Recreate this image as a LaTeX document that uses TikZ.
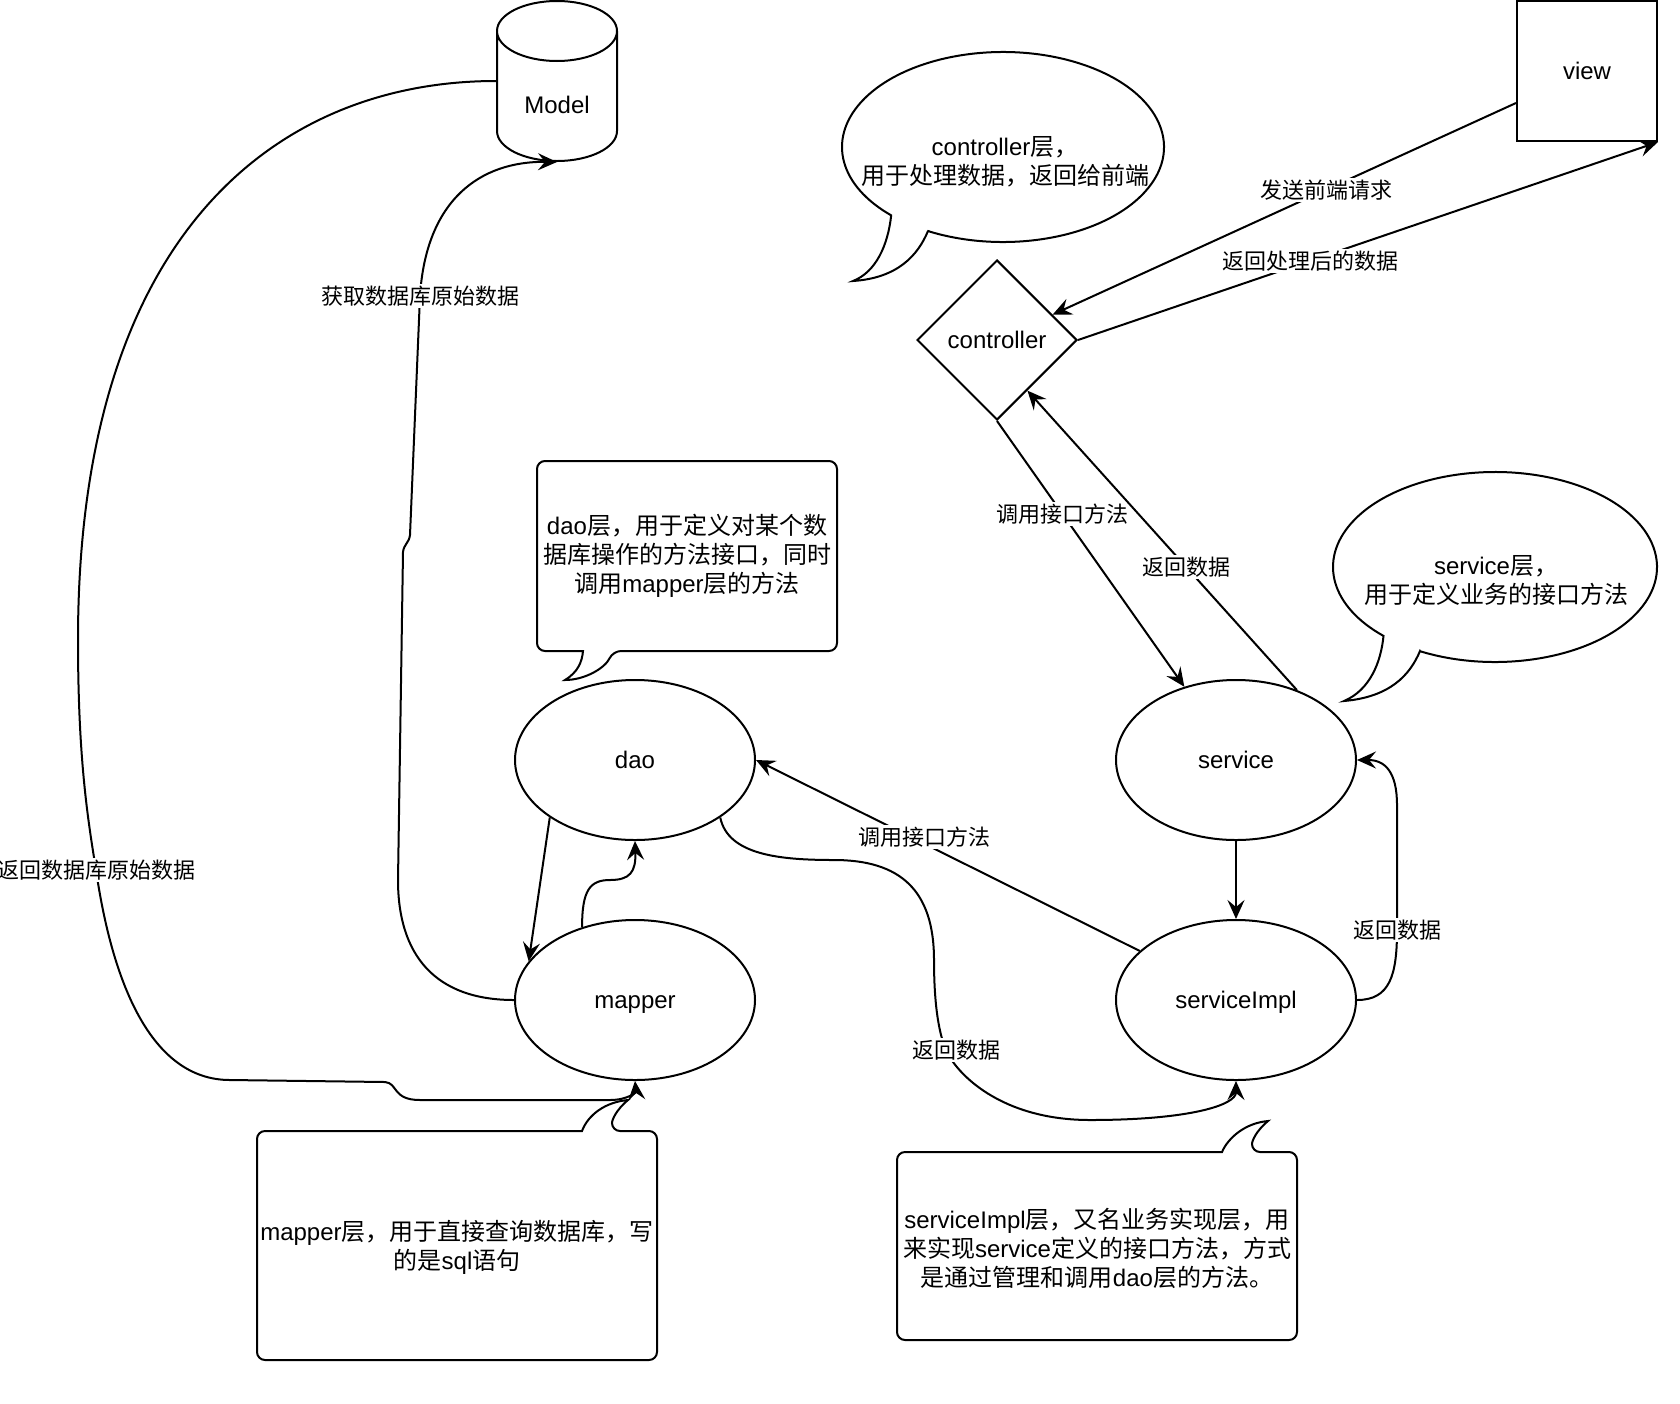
\documentclass[tikz,border=0pt]{standalone}
\usepackage{fontspec}
\setmainfont{Liberation Sans}
\newfontfamily\cjk{Noto Sans CJK SC}
\newcommand{\zh}[1]{{\cjk #1}}
\usetikzlibrary{shapes.geometric,arrows.meta}

\begin{document}
\begin{tikzpicture}[x = 0.5pt, y = -0.5pt, line width = 1pt,
    every node/.style = {font = \fontsize{12pt}{14.5pt}\selectfont},
    layer/.style = {draw, ellipse, minimum width = 120pt, minimum height = 80pt, inner sep = 0pt,
      text height = 10pt, text depth = 1.5pt},
    arr/.style = {-{Stealth[length = 9.5pt, width = 8.5pt, inset = 3.5pt]}},
    lbl/.style = {fill = white, inner sep = 1pt, font = \fontsize{11pt}{13pt}\selectfont\cjk},
    note/.style = {align = center, inner sep = 0pt}]
\useasboundingbox (0,0) rectangle (1680,1403);

% the layers
\node[minimum width = 60pt, minimum height = 80pt, inner sep = 0pt] (model) at (557,81) {};
\draw (497,31) -- (497,131) arc[start angle = 180, end angle = 360, x radius = 30pt, y radius = 15pt]
  -- (617,31) arc[start angle = 0, end angle = 180, x radius = 30pt, y radius = 15pt]
  arc[start angle = 180, end angle = 360, x radius = 30pt, y radius = 15pt]; % cylinder
\node (modeltext) at (557,105) {Model};
\node[draw, minimum width = 70pt, minimum height = 70pt] (view) at (1587,71) {view};
\node[draw, diamond, minimum width = 80pt, minimum height = 80pt, inner sep = 0pt] (ctrl) at (997,340) {controller};
\node[layer] (dao) at (635,760) {dao};
\node[layer] (mapper) at (635,1000) {mapper};
\node[layer] (service) at (1236,760) {service};
\node[layer] (serviceimpl) at (1236,1000) {serviceImpl};

% speech bubbles
\coordinate (cbub) at (1003,147);
\draw (cbub) ++(242:80.5pt and 47.5pt) arc[start angle = 242, end angle = 586, x radius = 80.5pt, y radius = 47.5pt]
  .. controls (888,245) and (876,272) .. (853,281) .. controls (898,278) and (918,255) .. (928,231) -- cycle;
\node[note] (ctrlnote) at (1005,162) {controller\zh{层，}\\\zh{用于处理数据，返回给前端}};
\coordinate (sbub) at (1495,567);
\draw (sbub) ++(242.5:81pt and 47.5pt) arc[start angle = 242.5, end angle = 586.5, x radius = 81pt, y radius = 47.5pt]
  .. controls (1381,662) and (1370,690) .. (1344,701) .. controls (1390,697) and (1410,675) .. (1420,651) -- cycle;
\node[note] (servicenote) at (1496,581) {service\zh{层，}\\\zh{用于定义业务的接口方法}};

% rounded boxes with a tail
\draw (565,680) .. controls (578,672) and (582,662) .. (583,651) [rounded corners = 4pt]
  -- (537,651) -- (537,461) -- (837,461) -- (837,651) -- (613,651) [sharp corners]
  .. controls (605,668) and (585,680) .. (565,680) -- cycle;
\node[note] (daonote) at (687,556) {dao\zh{层，用于定义对某个数}\\\zh{据库操作的方法接口，同时}\\\zh{调用}mapper\zh{层的方法}};
\draw (628,1100) .. controls (605,1102) and (588,1115) .. (582,1131) [rounded corners = 4pt]
  -- (257,1131) -- (257,1360) -- (657,1360) -- (657,1131) -- (612,1131) [sharp corners]
  .. controls (612,1120) and (616,1110) .. (628,1100) -- cycle;
\node[note] (mappernote) at (457,1247) {mapper\zh{层，用于直接查询数据库，写}\\\zh{的是}sql\zh{语句}};
\draw (1268,1121) .. controls (1245,1123) and (1228,1138) .. (1222,1152) [rounded corners = 4pt]
  -- (897,1152) -- (897,1340) -- (1297,1340) -- (1297,1152) -- (1252,1152) [sharp corners]
  .. controls (1252,1141) and (1256,1131) .. (1268,1121) -- cycle;
\node[note] (implnote) at (1097,1248) {serviceImpl\zh{层，又名业务实现层，用}\\\zh{来实现}service\zh{定义的接口方法，方式}\\\zh{是通过管理和调用}dao\zh{层的方法。}};

% front end and controller
\draw[arr] ([yshift = -16pt]view.west) -- node[lbl, pos = 0.41] {发送前端请求} (ctrl);
\draw[arr] (ctrl.east) -- node[lbl, pos = 0.4] {返回处理后的数据} (view.south east);
\draw[arr] (ctrl.south) -- node[lbl, pos = 0.35] {调用接口方法} (service);
\draw[arr] (service.49) -- node[lbl, pos = 0.41] {返回数据} (ctrl.-59);

% service side
\draw[arr] (service) -- (serviceimpl);
\draw[arr] (serviceimpl.east) .. controls (1390,1000) and (1397,975) .. (1397,930) node[lbl] {返回数据}
  -- (1397,805) .. controls (1397,772) and (1385,760) .. (service.east);
\draw[arr] (serviceimpl.153) -- node[lbl, pos = 0.56, yshift = 3.5pt] {调用接口方法} (dao.east);
\draw[arr] (dao.-34) .. controls (728,855) and (780,860) .. (834,860) .. controls (900,860) and (934,890) .. (934,960)
  .. controls (934,1010) and (940,1036) .. (946,1050) node[lbl, xshift = 5pt] {返回数据}
  .. controls (956,1073) and (1000,1120) .. (1090,1120) .. controls (1190,1120) and (1236,1105) .. (serviceimpl.south);

% dao and mapper
\draw[arr] (dao.214) -- (mapper.160);
\draw[arr] (mapper.126) .. controls (582,890) and (590,880) .. (610,880) .. controls (630,880) and (636,872) .. (dao.south);

% database
\draw[arr] (mapper.west) .. controls (435,1000) and (398,955) .. (398,880) -- (403,552)
  .. controls (404,544) and (409,543) .. (410,535) -- (420,296) node[lbl] {获取数据库原始数据}
  .. controls (426,200) and (480,161) .. (model.south);
\draw[arr] (model.west) .. controls (280,81) and (78,230) .. (78,640) .. controls (78,760) and (88,820) .. (96,870)
  node[lbl] {返回数据库原始数据} .. controls (112,980) and (150,1080) .. (230,1080) -- (385,1082)
  .. controls (398,1083) and (392,1100) .. (420,1100) -- (610,1100) .. controls (628,1100) and (636,1092) .. (mapper.south);
\end{tikzpicture}
\end{document}
